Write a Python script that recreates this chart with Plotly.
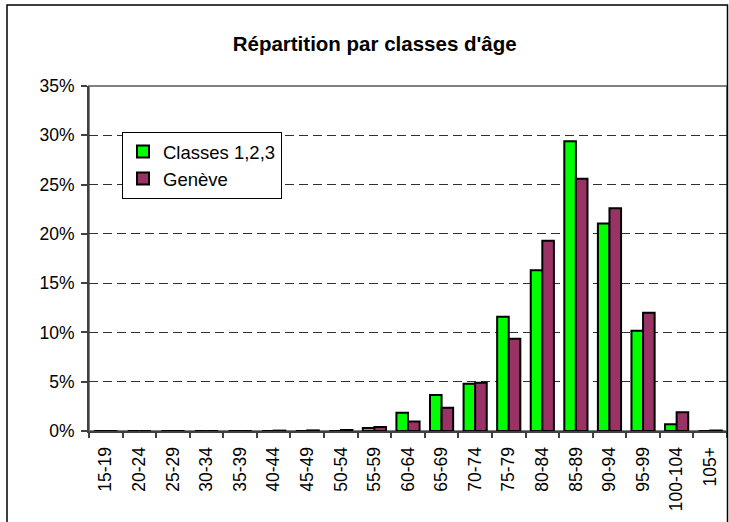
import plotly.graph_objects as go

categories = ["15-19", "20-24", "25-29", "30-34", "35-39", "40-44", "45-49", "50-54",
              "55-59", "60-64", "65-69", "70-74", "75-79", "80-84", "85-89", "90-94",
              "95-99", "100-104", "105+"]
classes_123 = [0, 0, 0, 0, 0, 0, 0, 0, 0.31, 1.85, 3.66, 4.8, 11.6, 16.3, 29.4,
               21.05, 10.17, 0.68, 0]
geneve = [0, 0, 0, 0, 0, 0.04, 0.06, 0.1, 0.41, 0.96, 2.36, 4.9, 9.36, 19.3, 25.6,
          22.6, 12.0, 1.9, 0.05]

FONT = "Liberation Sans, Arial, sans-serif"

fig = go.Figure()
fig.add_trace(go.Bar(
    x=categories, y=[v / 100 for v in classes_123], name="Classes 1,2,3",
    marker=dict(color="#00FF00", line=dict(color="black", width=2)),
))
fig.add_trace(go.Bar(
    x=categories, y=[v / 100 for v in geneve], name="Genève",
    marker=dict(color="#993366", line=dict(color="black", width=2)),
))

W, H = 729, 522
ml, mr, mt, mb = 89, 2, 86, 91
pw, ph = W - ml - mr, H - mt - mb

def px_x(x):
    return (x - ml) / pw

def px_y(y):
    return 1 - (y - mt) / ph

fig.update_layout(
    width=W, height=H,
    margin=dict(l=ml, r=mr, t=mt, b=mb, pad=0),
    paper_bgcolor="white", plot_bgcolor="white",
    font=dict(family=FONT, color="black", size=17.5),
    barmode="group", bargap=0.31, bargroupgap=0,
    title=dict(text="<b>Répartition par classes d'âge</b>",
               font=dict(family=FONT, size=20.5, color="black"),
               x=374.7 / W, xanchor="center", y=1 - 44 / H, yanchor="middle"),
    legend=dict(x=px_x(122), y=px_y(132), xanchor="left", yanchor="top",
                bgcolor="white", bordercolor="black", borderwidth=1,
                font=dict(family=FONT, size=18.5, color="black"),
                itemwidth=30, tracegroupgap=0),
    showlegend=True,
    shapes=[
        # plot area border
        dict(type="rect", xref="paper", yref="paper", x0=0, x1=1, y0=0, y1=1,
             line=dict(color="#808080", width=2), layer="below"),
        # outer chart border
        dict(type="rect", xref="paper", yref="paper",
             x0=px_x(7), x1=px_x(727.5), y0=px_y(5), y1=px_y(540),
             line=dict(color="black", width=1.5), layer="above"),
    ],
)

fig.update_xaxes(
    type="category", tickangle=-90, tickson="boundaries",
    ticks="outside", ticklen=5, tickcolor="#404040", tickwidth=1.5,
    showline=True, linecolor="#404040", linewidth=2,
    showgrid=False, ticklabelstandoff=7,
    tickfont=dict(family=FONT, size=17.5, color="black"),
)
fig.update_yaxes(
    range=[0, 0.35], dtick=0.05, tickformat=".0%",
    ticks="outside", ticklen=6, tickcolor="#404040", tickwidth=1.5,
    showline=True, linecolor="#404040", linewidth=2,
    showgrid=True, gridcolor="#303030", gridwidth=1.3, griddash="9px,5px",
    zeroline=False, ticklabelstandoff=3,
    tickfont=dict(family=FONT, size=17.5, color="black"),
)

fig.write_html(
    "out.html",
    config={"displayModeBar": False},
    post_script="document.body.style.margin='0';"
                "document.body.style.overflow='hidden';"
                "document.documentElement.style.overflow='hidden';",
)
